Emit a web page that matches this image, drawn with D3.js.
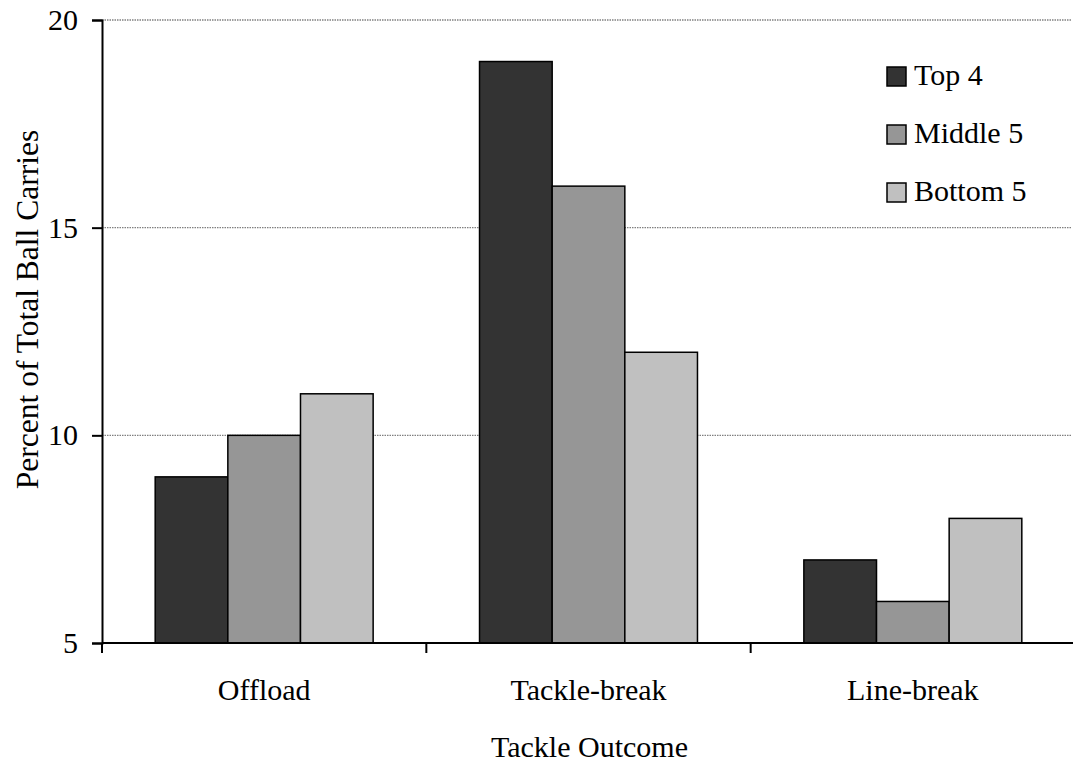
<!DOCTYPE html>
<html>
<head>
<meta charset="utf-8">
<script src="https://cdn.jsdelivr.net/npm/d3@7"></script>
<style>
html,body{margin:0;padding:0;background:#fff;}
text{font-family:"Liberation Serif","Times New Roman",serif;fill:#000;}
</style>
</head>
<body>
<svg id="chart" width="1073" height="769"></svg>
<script>
const categories = ["Offload", "Tackle-break", "Line-break"];
const seriesNames = ["Top 4", "Middle 5", "Bottom 5"];
const top4 = [9, 19, 7];
const middle5 = [10, 16, 6];
const bottom5 = [11, 12, 8];
const yTicks = [5, 10, 15, 20];
const colors = ["#333333", "#969696", "#c0c0c0"];

(function () {
const seriesValues = [top4, middle5, bottom5];
const svg = d3.select("#chart");
const mLeft = 102, mRight = 1075, mTop = 20, mBottom = 643;
const fs = 30;

const y = d3.scaleLinear().domain([5, 20]).range([mBottom, mTop]);
const x0 = d3.scaleBand().domain(categories).range([mLeft, mRight]).padding(0);
const bw = x0.bandwidth();
const pad = bw * 0.164;
const x1 = d3.scaleBand().domain(seriesNames).range([pad, bw - pad]).padding(0);

// gridlines
svg.append("g").selectAll("line").data(yTicks.filter(d => d > 5)).join("line")
  .attr("x1", mLeft).attr("x2", 1071)
  .attr("y1", d => y(d)).attr("y2", d => y(d))
  .attr("stroke", "#808080").attr("stroke-width", 1.3)
  .attr("stroke-dasharray", "1.5,1");

// bars
const groups = svg.append("g").selectAll("g").data(categories).join("g")
  .attr("transform", d => `translate(${x0(d)},0)`);
groups.selectAll("rect")
  .data((c, i) => seriesNames.map((s, j) => ({s, j, v: seriesValues[j][i]})))
  .join("rect")
  .attr("x", d => x1(d.s))
  .attr("width", x1.bandwidth())
  .attr("y", d => y(d.v))
  .attr("height", d => y(5) - y(d.v))
  .attr("fill", d => colors[d.j])
  .attr("stroke", "#000").attr("stroke-width", 1.5);

// y axis
const yAxis = d3.axisLeft(y).tickValues(yTicks).tickSize(10).tickPadding(14);
const gy = svg.append("g").attr("transform", `translate(${mLeft},0)`).call(yAxis);
gy.select(".domain").attr("stroke", "#000").attr("stroke-width", 2);
gy.selectAll(".tick line").attr("stroke", "#000").attr("stroke-width", 2);
gy.selectAll(".tick text").style("font-size", fs + "px").style("font-family", '"Liberation Serif", serif');

// x axis
const xAxis = d3.axisBottom(x0).tickSize(0).tickPadding(36);
const gx = svg.append("g").attr("transform", `translate(0,${mBottom})`).call(xAxis);
gx.select(".domain").attr("stroke", "#000").attr("stroke-width", 2).attr("d", `M${mLeft},0H${mRight}`);
gx.selectAll(".tick text").style("font-size", fs + "px").style("font-family", '"Liberation Serif", serif');
gx.append("g").selectAll("line").data(categories).join("line")
  .attr("x1", d => x0(d)).attr("x2", d => x0(d))
  .attr("y1", 0).attr("y2", 10)
  .attr("stroke", "#000").attr("stroke-width", 2);

// axis titles
svg.append("text").attr("x", (mLeft + 1071) / 2 + 3).attr("y", 757)
  .attr("text-anchor", "middle").style("font-size", fs + "px").text("Tackle Outcome");
svg.append("text").attr("transform", `translate(38,${(130 + 489) / 2}) rotate(-90)`)
  .attr("text-anchor", "middle").style("font-size", "31.5px").text("Percent of Total Ball Carries");

// legend
const lg = svg.append("g").attr("transform", "translate(887,67)");
const li = lg.selectAll("g").data(seriesNames).join("g")
  .attr("transform", (d, i) => `translate(0,${i * 58})`);
li.append("rect").attr("width", 19).attr("height", 19)
  .attr("fill", (d, i) => colors[i]).attr("stroke", "#000").attr("stroke-width", 1.5);
li.append("text").attr("x", 27).attr("y", 18).style("font-size", fs + "px").text(d => d);
})();
</script>
</body>
</html>
